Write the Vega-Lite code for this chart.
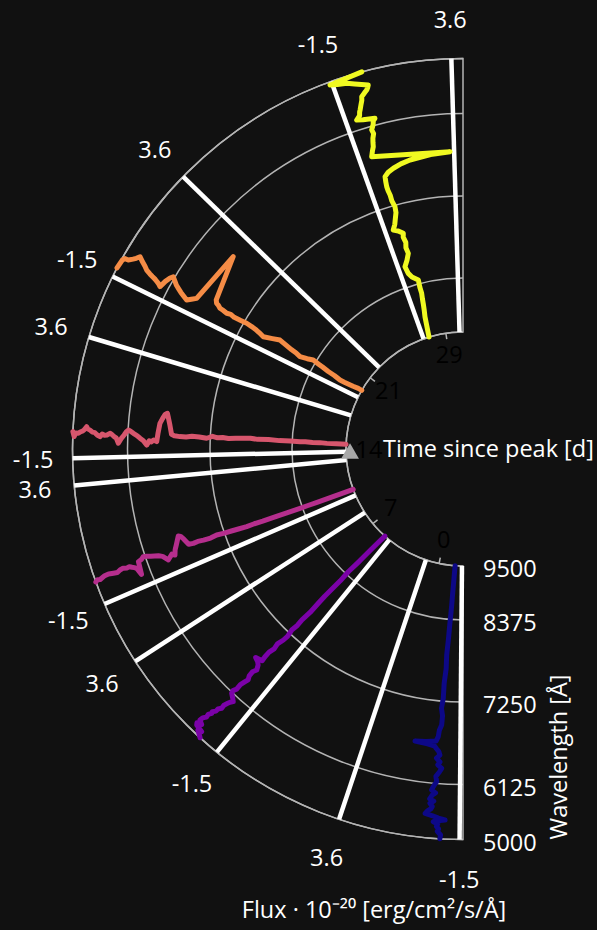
{
  "$schema": "https://vega.github.io/schema/vega-lite/v6.json",
  "width": 597,
  "height": 930,
  "autosize": "none",
  "padding": 0,
  "background": "#111111",
  "config": {"view": {"stroke": null}, "font": "Open Sans"},
  "datasets": {
    "grid": [{"w": 9500}, {"w": 8375}, {"w": 7250}, {"w": 6125}, {"w": 5000}],
    "times": [{"t": 0}, {"t": 7}, {"t": 14}, {"t": 21}, {"t": 29}],
    "wedges": [
      {"t": 0, "f": -1.5}, {"t": 0, "f": 3.6},
      {"t": 7, "f": -1.5}, {"t": 7, "f": 3.6},
      {"t": 12, "f": -1.5}, {"t": 12, "f": 3.6},
      {"t": 16, "f": -1.5}, {"t": 16, "f": 3.6},
      {"t": 21, "f": -1.5}, {"t": 21, "f": 3.6},
      {"t": 29, "f": -1.5}, {"t": 29, "f": 3.6}
    ],
    "spectra": [
      {"t":0,"w":9500,"f":-0.55},{"t":0,"w":9300,"f":-0.52},{"t":0,"w":9100,"f":-0.5},{"t":0,"w":8900,"f":-0.48},{"t":0,"w":8679,"f":-0.47},{"t":0,"w":8500,"f":-0.45},{"t":0,"w":8300,"f":-0.42},{"t":0,"w":8100,"f":-0.4},{"t":0,"w":7887,"f":-0.36},{"t":0,"w":7700,"f":-0.4},{"t":0,"w":7500,"f":-0.34},{"t":0,"w":7291,"f":-0.36},{"t":0,"w":7150,"f":-0.3},{"t":0,"w":7050,"f":-0.4},{"t":0,"w":6925,"f":-0.39},{"t":0,"w":6850,"f":-0.28},{"t":0,"w":6763,"f":-0.25},{"t":0,"w":6700,"f":-0.15},{"t":0,"w":6680,"f":0.4},{"t":0,"w":6664,"f":1.0},{"t":0,"w":6650,"f":0.3},{"t":0,"w":6630,"f":-0.1},{"t":0,"w":6600,"f":-0.2},{"t":0,"w":6560,"f":-0.35},{"t":0,"w":6515,"f":-0.42},{"t":0,"w":6470,"f":-0.25},{"t":0,"w":6420,"f":-0.45},{"t":0,"w":6380,"f":-0.35},{"t":0,"w":6336,"f":-0.56},{"t":0,"w":6280,"f":-0.45},{"t":0,"w":6220,"f":-0.3},{"t":0,"w":6150,"f":-0.36},{"t":0,"w":6080,"f":-0.25},{"t":0,"w":6020,"f":-0.18},{"t":0,"w":5984,"f":-0.15},{"t":0,"w":5930,"f":-0.35},{"t":0,"w":5880,"f":-0.2},{"t":0,"w":5800,"f":-0.1},{"t":0,"w":5760,"f":-0.3},{"t":0,"w":5710,"f":-0.13},{"t":0,"w":5650,"f":-0.25},{"t":0,"w":5600,"f":-0.2},{"t":0,"w":5550,"f":-0.05},{"t":0,"w":5495,"f":0.04},{"t":0,"w":5460,"f":-0.3},{"t":0,"w":5420,"f":-0.56},{"t":0,"w":5390,"f":-0.86},{"t":0,"w":5360,"f":-0.45},{"t":0,"w":5340,"f":-0.35},{"t":0,"w":5300,"f":-0.55},{"t":0,"w":5250,"f":-0.5},{"t":0,"w":5200,"f":-0.6},{"t":0,"w":5150,"f":-0.55},{"t":0,"w":5080,"f":-0.7},{"t":0,"w":5000,"f":-0.68},
      {"t":7,"w":9500,"f":-0.7},{"t":7,"w":9300,"f":-0.62},{"t":7,"w":9100,"f":-0.55},{"t":7,"w":8900,"f":-0.5},{"t":7,"w":8700,"f":-0.45},{"t":7,"w":8438,"f":-0.37},{"t":7,"w":8250,"f":-0.4},{"t":7,"w":8100,"f":-0.36},{"t":7,"w":7950,"f":-0.33},{"t":7,"w":7819,"f":-0.34},{"t":7,"w":7650,"f":-0.36},{"t":7,"w":7500,"f":-0.3},{"t":7,"w":7400,"f":-0.33},{"t":7,"w":7302,"f":-0.27},{"t":7,"w":7200,"f":-0.35},{"t":7,"w":7125,"f":-0.32},{"t":7,"w":7030,"f":-0.22},{"t":7,"w":6950,"f":-0.28},{"t":7,"w":6870,"f":-0.2},{"t":7,"w":6786,"f":-0.21},{"t":7,"w":6720,"f":-0.25},{"t":7,"w":6690,"f":0.13},{"t":7,"w":6670,"f":-0.1},{"t":7,"w":6640,"f":-0.25},{"t":7,"w":6578,"f":-0.38},{"t":7,"w":6520,"f":-0.28},{"t":7,"w":6450,"f":-0.3},{"t":7,"w":6400,"f":-0.4},{"t":7,"w":6353,"f":-0.35},{"t":7,"w":6280,"f":-0.28},{"t":7,"w":6200,"f":-0.3},{"t":7,"w":6150,"f":-0.22},{"t":7,"w":6107,"f":-0.26},{"t":7,"w":6050,"f":-0.45},{"t":7,"w":6002,"f":-0.59},{"t":7,"w":5950,"f":-0.5},{"t":7,"w":5900,"f":-0.45},{"t":7,"w":5820,"f":-0.38},{"t":7,"w":5743,"f":-0.4},{"t":7,"w":5680,"f":-0.3},{"t":7,"w":5620,"f":-0.3},{"t":7,"w":5560,"f":-0.2},{"t":7,"w":5528,"f":-0.23},{"t":7,"w":5460,"f":-0.15},{"t":7,"w":5400,"f":-0.18},{"t":7,"w":5330,"f":-0.08},{"t":7,"w":5264,"f":-0.06},{"t":7,"w":5220,"f":-0.25},{"t":7,"w":5180,"f":-0.05},{"t":7,"w":5143,"f":-0.11},{"t":7,"w":5113,"f":-0.46},{"t":7,"w":5080,"f":-0.3},{"t":7,"w":5040,"f":-0.45},{"t":7,"w":5000,"f":-0.58},
      {"t":12,"w":9500,"f":-0.6},{"t":12,"w":9300,"f":-0.6},{"t":12,"w":9100,"f":-0.58},{"t":12,"w":8900,"f":-0.57},{"t":12,"w":8700,"f":-0.56},{"t":12,"w":8500,"f":-0.55},{"t":12,"w":8341,"f":-0.545},{"t":12,"w":8150,"f":-0.52},{"t":12,"w":8000,"f":-0.5},{"t":12,"w":7800,"f":-0.49},{"t":12,"w":7680,"f":-0.46},{"t":12,"w":7568,"f":-0.47},{"t":12,"w":7450,"f":-0.43},{"t":12,"w":7350,"f":-0.4},{"t":12,"w":7250,"f":-0.38},{"t":12,"w":7142,"f":-0.33},{"t":12,"w":7050,"f":-0.38},{"t":12,"w":6950,"f":-0.36},{"t":12,"w":6870,"f":-0.32},{"t":12,"w":6804,"f":-0.34},{"t":12,"w":6740,"f":-0.3},{"t":12,"w":6700,"f":0.05},{"t":12,"w":6670,"f":0.25},{"t":12,"w":6640,"f":0.31},{"t":12,"w":6610,"f":0.1},{"t":12,"w":6580,"f":-0.1},{"t":12,"w":6540,"f":-0.35},{"t":12,"w":6515,"f":-0.6},{"t":12,"w":6480,"f":-0.5},{"t":12,"w":6440,"f":-0.62},{"t":12,"w":6406,"f":-0.72},{"t":12,"w":6350,"f":-0.45},{"t":12,"w":6300,"f":-0.35},{"t":12,"w":6250,"f":-0.3},{"t":12,"w":6200,"f":-0.25},{"t":12,"w":6144,"f":-0.18},{"t":12,"w":6086,"f":-0.15},{"t":12,"w":6030,"f":-0.25},{"t":12,"w":5960,"f":-0.3},{"t":12,"w":5930,"f":-0.91},{"t":12,"w":5882,"f":-0.57},{"t":12,"w":5840,"f":-0.5},{"t":12,"w":5800,"f":-0.45},{"t":12,"w":5750,"f":-0.38},{"t":12,"w":5700,"f":-0.4},{"t":12,"w":5620,"f":-0.35},{"t":12,"w":5548,"f":-0.38},{"t":12,"w":5480,"f":-0.45},{"t":12,"w":5400,"f":-0.42},{"t":12,"w":5300,"f":-0.38},{"t":12,"w":5200,"f":-0.4},{"t":12,"w":5100,"f":-0.48},{"t":12,"w":5050,"f":-0.45},{"t":12,"w":5000,"f":-0.52},
      {"t":16,"w":9500,"f":-0.47},{"t":16,"w":9300,"f":-0.46},{"t":16,"w":9100,"f":-0.45},{"t":16,"w":8950,"f":-0.4},{"t":16,"w":8800,"f":-0.42},{"t":16,"w":8650,"f":-0.38},{"t":16,"w":8540,"f":-0.4},{"t":16,"w":8350,"f":-0.37},{"t":16,"w":8200,"f":-0.38},{"t":16,"w":8050,"f":-0.33},{"t":16,"w":7900,"f":-0.36},{"t":16,"w":7800,"f":-0.3},{"t":16,"w":7703,"f":-0.33},{"t":16,"w":7600,"f":-0.36},{"t":16,"w":7500,"f":-0.4},{"t":16,"w":7420,"f":-0.35},{"t":16,"w":7350,"f":-0.38},{"t":16,"w":7280,"f":-0.3},{"t":16,"w":7202,"f":-0.44},{"t":16,"w":7100,"f":-0.38},{"t":16,"w":7000,"f":-0.36},{"t":16,"w":6920,"f":-0.42},{"t":16,"w":6837,"f":-0.41},{"t":16,"w":6760,"f":-0.38},{"t":16,"w":6720,"f":-0.3},{"t":16,"w":6690,"f":0.2},{"t":16,"w":6660,"f":0.6},{"t":16,"w":6640,"f":0.83},{"t":16,"w":6610,"f":0.75},{"t":16,"w":6580,"f":0.5},{"t":16,"w":6553,"f":0.25},{"t":16,"w":6535,"f":-0.3},{"t":16,"w":6522,"f":-0.73},{"t":16,"w":6480,"f":-0.65},{"t":16,"w":6450,"f":-0.75},{"t":16,"w":6420,"f":-0.7},{"t":16,"w":6386,"f":-0.92},{"t":16,"w":6340,"f":-0.7},{"t":16,"w":6293,"f":-0.58},{"t":16,"w":6250,"f":-0.45},{"t":16,"w":6200,"f":-0.35},{"t":16,"w":6160,"f":-0.25},{"t":16,"w":6130,"f":-0.2},{"t":16,"w":6090,"f":-0.3},{"t":16,"w":6050,"f":-0.45},{"t":16,"w":6000,"f":-0.6},{"t":16,"w":5937,"f":-0.85},{"t":16,"w":5890,"f":-0.6},{"t":16,"w":5850,"f":-0.55},{"t":16,"w":5800,"f":-0.45},{"t":16,"w":5765,"f":-0.4},{"t":16,"w":5700,"f":-0.48},{"t":16,"w":5650,"f":-0.5},{"t":16,"w":5600,"f":-0.45},{"t":16,"w":5559,"f":-0.57},{"t":16,"w":5500,"f":-0.5},{"t":16,"w":5450,"f":-0.4},{"t":16,"w":5400,"f":-0.38},{"t":16,"w":5350,"f":-0.3},{"t":16,"w":5300,"f":-0.25},{"t":16,"w":5276,"f":-0.16},{"t":16,"w":5230,"f":-0.3},{"t":16,"w":5200,"f":-0.35},{"t":16,"w":5150,"f":-0.4},{"t":16,"w":5113,"f":-0.46},{"t":16,"w":5060,"f":-0.45},{"t":16,"w":5030,"f":-0.6},{"t":16,"w":5000,"f":-0.4},
      {"t":21,"w":9500,"f":-0.4},{"t":21,"w":9417,"f":-0.4},{"t":21,"w":9300,"f":-0.5},{"t":21,"w":9200,"f":-0.55},{"t":21,"w":9100,"f":-0.6},{"t":21,"w":9000,"f":-0.63},{"t":21,"w":8850,"f":-0.5},{"t":21,"w":8700,"f":-0.45},{"t":21,"w":8550,"f":-0.35},{"t":21,"w":8450,"f":-0.3},{"t":21,"w":8331,"f":-0.22},{"t":21,"w":8250,"f":-0.4},{"t":21,"w":8151,"f":-0.56},{"t":21,"w":8080,"f":-0.45},{"t":21,"w":8000,"f":-0.4},{"t":21,"w":7900,"f":-0.3},{"t":21,"w":7799,"f":-0.21},{"t":21,"w":7700,"f":-0.4},{"t":21,"w":7578,"f":-0.61},{"t":21,"w":7500,"f":-0.5},{"t":21,"w":7450,"f":-0.45},{"t":21,"w":7370,"f":-0.4},{"t":21,"w":7288,"f":-0.38},{"t":21,"w":7200,"f":-0.42},{"t":21,"w":7100,"f":-0.45},{"t":21,"w":7040,"f":-0.4},{"t":21,"w":6984,"f":-0.46},{"t":21,"w":6920,"f":-0.42},{"t":21,"w":6870,"f":-0.4},{"t":21,"w":6830,"f":-0.3},{"t":21,"w":6797,"f":-0.26},{"t":21,"w":6768,"f":-0.1},{"t":21,"w":6613,"f":2.39},{"t":21,"w":6527,"f":-0.57},{"t":21,"w":6470,"f":-0.75},{"t":21,"w":6419,"f":-0.9},{"t":21,"w":6360,"f":-0.8},{"t":21,"w":6300,"f":-0.7},{"t":21,"w":6250,"f":-0.6},{"t":21,"w":6200,"f":-0.5},{"t":21,"w":6150,"f":-0.35},{"t":21,"w":6094,"f":-0.22},{"t":21,"w":6050,"f":-0.35},{"t":21,"w":6000,"f":-0.6},{"t":21,"w":5956,"f":-0.94},{"t":21,"w":5900,"f":-0.85},{"t":21,"w":5850,"f":-0.8},{"t":21,"w":5800,"f":-0.75},{"t":21,"w":5720,"f":-0.7},{"t":21,"w":5650,"f":-0.65},{"t":21,"w":5554,"f":-0.57},{"t":21,"w":5480,"f":-0.45},{"t":21,"w":5400,"f":-0.35},{"t":21,"w":5350,"f":-0.28},{"t":21,"w":5299,"f":-0.21},{"t":21,"w":5250,"f":-0.35},{"t":21,"w":5200,"f":-0.45},{"t":21,"w":5125,"f":-0.58},{"t":21,"w":5050,"f":-0.6},{"t":21,"w":5020,"f":-0.7},{"t":21,"w":5000,"f":-1.1},
      {"t":29,"w":9500,"f":-0.7},{"t":29,"w":9420,"f":-0.65},{"t":29,"w":9250,"f":-0.55},{"t":29,"w":9070,"f":-0.46},{"t":29,"w":8950,"f":-0.35},{"t":29,"w":8800,"f":-0.25},{"t":29,"w":8700,"f":-0.2},{"t":29,"w":8582,"f":-0.13},{"t":29,"w":8450,"f":-0.15},{"t":29,"w":8323,"f":-0.11},{"t":29,"w":8260,"f":-0.6},{"t":29,"w":8197,"f":-0.82},{"t":29,"w":8097,"f":-0.92},{"t":29,"w":8020,"f":-0.6},{"t":29,"w":7934,"f":-0.34},{"t":29,"w":7850,"f":-0.4},{"t":29,"w":7780,"f":-0.3},{"t":29,"w":7700,"f":-0.38},{"t":29,"w":7651,"f":-0.3},{"t":29,"w":7600,"f":-0.6},{"t":29,"w":7568,"f":-0.92},{"t":29,"w":7500,"f":-0.7},{"t":29,"w":7450,"f":-0.6},{"t":29,"w":7350,"f":-0.4},{"t":29,"w":7268,"f":-0.36},{"t":29,"w":7180,"f":-0.45},{"t":29,"w":7100,"f":-0.45},{"t":29,"w":7030,"f":-0.5},{"t":29,"w":6974,"f":-0.51},{"t":29,"w":6900,"f":-0.48},{"t":29,"w":6837,"f":-0.44},{"t":29,"w":6790,"f":-0.2},{"t":29,"w":6756,"f":0.14},{"t":29,"w":6720,"f":0.6},{"t":29,"w":6693,"f":1.14},{"t":29,"w":6660,"f":2.3},{"t":29,"w":6642,"f":3.38},{"t":29,"w":6524,"f":-0.83},{"t":29,"w":6450,"f":-0.7},{"t":29,"w":6400,"f":-0.6},{"t":29,"w":6340,"f":-0.55},{"t":29,"w":6290,"f":-0.5},{"t":29,"w":6230,"f":-0.4},{"t":29,"w":6175,"f":-0.44},{"t":29,"w":6100,"f":-0.3},{"t":29,"w":6030,"f":-0.25},{"t":29,"w":5988,"f":-0.14},{"t":29,"w":5950,"f":-0.7},{"t":29,"w":5917,"f":-0.99},{"t":29,"w":5850,"f":-0.8},{"t":29,"w":5780,"f":-0.75},{"t":29,"w":5741,"f":-0.7},{"t":29,"w":5650,"f":-0.6},{"t":29,"w":5560,"f":-0.5},{"t":29,"w":5489,"f":-0.46},{"t":29,"w":5430,"f":-0.3},{"t":29,"w":5385,"f":-0.17},{"t":29,"w":5340,"f":-0.1},{"t":29,"w":5295,"f":-0.05},{"t":29,"w":5200,"f":-0.6},{"t":29,"w":5139,"f":-0.91},{"t":29,"w":5100,"f":-1.3},{"t":29,"w":5061,"f":-1.6},{"t":29,"w":5000,"f":-0.17}
    ]
  },
  "layer": [
    {
      "data": {"name": "grid"},
      "transform": [
        {"calculate": "datum.w >= 8375 ? 117 + (9500 - datum.w) * 54 / 1125 : datum.w >= 7250 ? 171 + (8375 - datum.w) * 82 / 1125 : datum.w >= 6125 ? 253 + (7250 - datum.w) * 82.5 / 1125 : 335.5 + (6125 - datum.w) * 55 / 1125", "as": "r"}
      ],
      "mark": {"type": "arc", "theta": 3.14159265, "theta2": 6.28318531, "filled": false, "stroke": "#b4b4b4", "strokeWidth": 1.5},
      "encoding": {
        "x": {"datum": 0, "type": "quantitative", "scale": {"domain": [-463, 134], "nice": false, "zero": false}, "axis": null},
        "y": {"datum": 0, "type": "quantitative", "scale": {"domain": [-481, 449], "nice": false, "zero": false}, "axis": null},
        "radius": {"field": "r", "type": "quantitative", "scale": null},
        "radius2": {"field": "r"}
      }
    },
    {
      "data": {"name": "grid"},
      "transform": [
        {"calculate": "datum.w >= 8375 ? 117 + (9500 - datum.w) * 54 / 1125 : datum.w >= 7250 ? 171 + (8375 - datum.w) * 82 / 1125 : datum.w >= 6125 ? 253 + (7250 - datum.w) * 82.5 / 1125 : 335.5 + (6125 - datum.w) * 55 / 1125", "as": "r"},
        {"joinaggregate": [{"op": "min", "field": "r", "as": "rin"}]},
        {"filter": "datum.w == 5000"}
      ],
      "mark": {"type": "arc", "theta": 3.14159265, "theta2": 6.28318531, "filled": false, "stroke": "#b4b4b4", "strokeWidth": 1.5},
      "encoding": {
        "x": {"datum": 0, "type": "quantitative", "scale": {"domain": [-463, 134], "nice": false, "zero": false}, "axis": null},
        "y": {"datum": 0, "type": "quantitative", "scale": {"domain": [-481, 449], "nice": false, "zero": false}, "axis": null},
        "radius": {"field": "r", "type": "quantitative", "scale": null},
        "radius2": {"field": "rin"}
      }
    },
    {
      "data": {"name": "times"},
      "transform": [
        {"calculate": "(11.8 + 5.51 * datum.t) * PI / 180", "as": "a"},
        {"calculate": "-117 * sin(datum.a)", "as": "x"},
        {"calculate": "-117 * cos(datum.a)", "as": "y"},
        {"calculate": "-111 * sin(datum.a)", "as": "x2"},
        {"calculate": "-111 * cos(datum.a)", "as": "y2"}
      ],
      "mark": {"type": "rule", "stroke": "#b4b4b4", "strokeWidth": 1.5},
      "encoding": {
        "x": {"field": "x", "type": "quantitative", "scale": {"domain": [-463, 134], "nice": false, "zero": false}, "axis": null},
        "y": {"field": "y", "type": "quantitative", "scale": {"domain": [-481, 449], "nice": false, "zero": false}, "axis": null},
        "x2": {"field": "x2"},
        "y2": {"field": "y2"}
      }
    },
    {
      "data": {"name": "times"},
      "transform": [
        {"calculate": "(11.8 + 5.51 * datum.t) * PI / 180", "as": "a"},
        {"calculate": "-94 * sin(datum.a)", "as": "x"},
        {"calculate": "-94 * cos(datum.a)", "as": "y"}
      ],
      "mark": {"type": "text", "color": "#000000", "fontSize": 23.5, "align": "center", "baseline": "middle"},
      "encoding": {
        "x": {"field": "x", "type": "quantitative", "scale": {"domain": [-463, 134], "nice": false, "zero": false}, "axis": null},
        "y": {"field": "y", "type": "quantitative", "scale": {"domain": [-481, 449], "nice": false, "zero": false}, "axis": null},
        "text": {"field": "t", "type": "nominal"}
      }
    },
    {
      "data": {"name": "wedges"},
      "transform": [
        {"calculate": "(0.5 + 5.51 * datum.t + (datum.f + 1.5) * 3.53) * PI / 180", "as": "a"},
        {"calculate": "-117 * sin(datum.a)", "as": "x"},
        {"calculate": "-117 * cos(datum.a)", "as": "y"},
        {"calculate": "-390.5 * sin(datum.a)", "as": "x2"},
        {"calculate": "-390.5 * cos(datum.a)", "as": "y2"}
      ],
      "mark": {"type": "rule", "stroke": "#ffffff", "strokeWidth": 4.5},
      "encoding": {
        "x": {"field": "x", "type": "quantitative", "scale": {"domain": [-463, 134], "nice": false, "zero": false}, "axis": null},
        "y": {"field": "y", "type": "quantitative", "scale": {"domain": [-481, 449], "nice": false, "zero": false}, "axis": null},
        "x2": {"field": "x2"},
        "y2": {"field": "y2"}
      }
    },
    {
      "data": {"name": "times"},
      "transform": [
        {"filter": "datum.t == 14"},
        {"calculate": "(11.8 + 5.51 * datum.t) * PI / 180", "as": "a"},
        {"calculate": "-113 * sin(datum.a)", "as": "x"},
        {"calculate": "-113 * cos(datum.a)", "as": "y"}
      ],
      "mark": {"type": "point", "shape": "triangle-up", "filled": true, "color": "#a8a8a8", "opacity": 1, "size": 320},
      "encoding": {
        "x": {"field": "x", "type": "quantitative", "scale": {"domain": [-463, 134], "nice": false, "zero": false}, "axis": null},
        "y": {"field": "y", "type": "quantitative", "scale": {"domain": [-481, 449], "nice": false, "zero": false}, "axis": null}
      }
    },
    {
      "data": {"name": "spectra"},
      "transform": [
        {"calculate": "datum.w >= 8375 ? 117 + (9500 - datum.w) * 54 / 1125 : datum.w >= 7250 ? 171 + (8375 - datum.w) * 82 / 1125 : datum.w >= 6125 ? 253 + (7250 - datum.w) * 82.5 / 1125 : 335.5 + (6125 - datum.w) * 55 / 1125", "as": "r"},
        {"calculate": "(0.5 + 5.51 * datum.t + (datum.f + 1.5) * 3.53) * PI / 180", "as": "a"},
        {"calculate": "-datum.r * sin(datum.a)", "as": "x"},
        {"calculate": "-datum.r * cos(datum.a)", "as": "y"}
      ],
      "mark": {"type": "line", "strokeWidth": 5, "strokeJoin": "round", "strokeCap": "round"},
      "encoding": {
        "x": {"field": "x", "type": "quantitative", "scale": {"domain": [-463, 134], "nice": false, "zero": false}, "axis": null},
        "y": {"field": "y", "type": "quantitative", "scale": {"domain": [-481, 449], "nice": false, "zero": false}, "axis": null},
        "color": {"field": "t", "type": "quantitative", "scale": {"scheme": "plasma", "domain": [0, 29]}, "legend": null},
        "detail": {"field": "t", "type": "nominal"},
        "order": {"field": "w", "type": "quantitative"}
      }
    },
    {
      "data": {"name": "wedges"},
      "transform": [
        {"calculate": "(0.5 + 5.51 * datum.t + (datum.f + 1.5) * 3.53) * PI / 180", "as": "a"},
        {"calculate": "-430 * sin(datum.a)", "as": "x"},
        {"calculate": "-430 * cos(datum.a)", "as": "y"}
      ],
      "mark": {"type": "text", "color": "#ffffff", "fontSize": 23.5, "align": "center", "baseline": "middle", "dy": 2},
      "encoding": {
        "x": {"field": "x", "type": "quantitative", "scale": {"domain": [-463, 134], "nice": false, "zero": false}, "axis": null},
        "y": {"field": "y", "type": "quantitative", "scale": {"domain": [-481, 449], "nice": false, "zero": false}, "axis": null},
        "text": {"field": "f", "type": "nominal"}
      }
    },
    {
      "data": {"name": "grid"},
      "transform": [
        {"calculate": "datum.w >= 8375 ? 117 + (9500 - datum.w) * 54 / 1125 : datum.w >= 7250 ? 171 + (8375 - datum.w) * 82 / 1125 : datum.w >= 6125 ? 253 + (7250 - datum.w) * 82.5 / 1125 : 335.5 + (6125 - datum.w) * 55 / 1125", "as": "r"},
        {"calculate": "-datum.r", "as": "y"}
      ],
      "mark": {"type": "text", "color": "#ffffff", "fontSize": 23.5, "align": "left", "baseline": "middle", "dx": 20, "dy": 4},
      "encoding": {
        "x": {"datum": 0, "type": "quantitative", "scale": {"domain": [-463, 134], "nice": false, "zero": false}, "axis": null},
        "y": {"field": "y", "type": "quantitative", "scale": {"domain": [-481, 449], "nice": false, "zero": false}, "axis": null},
        "text": {"field": "w", "type": "nominal"}
      }
    },
    {
      "data": {"values": [{"label": "Time since peak [d]"}]},
      "mark": {"type": "text", "color": "#ffffff", "fontSize": 23.5, "align": "left", "baseline": "middle"},
      "encoding": {
        "x": {"datum": -80, "type": "quantitative", "scale": {"domain": [-463, 134], "nice": false, "zero": false}, "axis": null},
        "y": {"datum": -1, "type": "quantitative", "scale": {"domain": [-481, 449], "nice": false, "zero": false}, "axis": null},
        "text": {"field": "label", "type": "nominal"}
      }
    },
    {
      "data": {"values": [{"label": "Wavelength [Å]"}]},
      "mark": {"type": "text", "color": "#ffffff", "fontSize": 23.5, "align": "center", "baseline": "middle", "angle": 270},
      "encoding": {
        "x": {"datum": 97, "type": "quantitative", "scale": {"domain": [-463, 134], "nice": false, "zero": false}, "axis": null},
        "y": {"datum": -308, "type": "quantitative", "scale": {"domain": [-481, 449], "nice": false, "zero": false}, "axis": null},
        "text": {"field": "label", "type": "nominal"}
      }
    },
    {
      "data": {"values": [{"label": "Flux · 10⁻²⁰ [erg/cm²/s/Å]"}]},
      "mark": {"type": "text", "color": "#ffffff", "fontSize": 23.5, "align": "center", "baseline": "middle"},
      "encoding": {
        "x": {"datum": -89, "type": "quantitative", "scale": {"domain": [-463, 134], "nice": false, "zero": false}, "axis": null},
        "y": {"datum": -462, "type": "quantitative", "scale": {"domain": [-481, 449], "nice": false, "zero": false}, "axis": null},
        "text": {"field": "label", "type": "nominal"}
      }
    }
  ]
}
